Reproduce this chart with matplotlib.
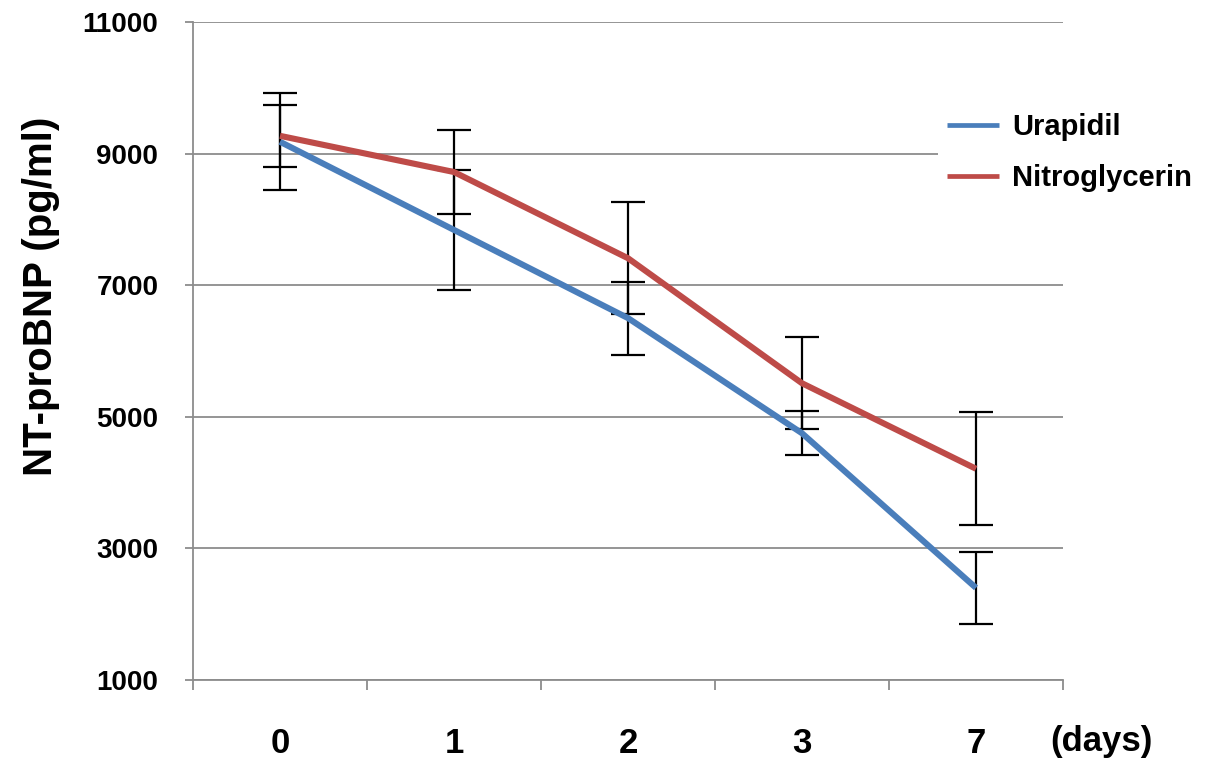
import numpy as np
import matplotlib.pyplot as plt

# values
days = ["0", "1", "2", "3", "7"]
urapidil = [9180, 7840, 6500, 4750, 2400]
urapidil_err = [740, 910, 555, 335, 547]
nitro = [9270, 8720, 7410, 5510, 4210]
nitro_err = [470, 640, 850, 700, 860]
yticks = [1000, 3000, 5000, 7000, 9000, 11000]

plt.rcParams['font.family'] = ['Liberation Sans', 'DejaVu Sans']
plt.rcParams['font.weight'] = 'bold'

blue = '#4a7ebb'
red = '#be4b48'
grey = '#8c8c8c'

fig = plt.figure(figsize=(12.05, 7.71), dpi=100)
ax = fig.add_axes([193 / 1205, 1 - 680 / 771, 870 / 1205, 658 / 771])

x = np.arange(len(days))

# error bars sit under the lines
ax.errorbar(x, urapidil, yerr=urapidil_err, fmt='none', ecolor='black',
            elinewidth=1.6, capsize=12, capthick=1.6, zorder=3)
ax.errorbar(x, nitro, yerr=nitro_err, fmt='none', ecolor='black',
            elinewidth=1.6, capsize=12, capthick=1.6, zorder=3)

ax.plot(x, urapidil, color=blue, lw=4.4, label='Urapidil', zorder=4,
        solid_capstyle='butt')
ax.plot(x, nitro, color=red, lw=4.4, label='Nitroglycerin', zorder=5,
        solid_capstyle='butt')

ax.set_xlim(-0.5, len(days) - 0.5)
ax.set_ylim(1000, 11000)

ax.set_yticks(yticks)
ax.set_yticklabels([str(v) for v in yticks], fontsize=20, fontweight='bold')
ax.yaxis.grid(True, color=grey, lw=1.3)
ax.set_axisbelow(True)

ax.set_xticks(x)
ax.set_xticklabels(days, fontsize=25, fontweight='bold')
ax.set_xticks(np.arange(-0.5, len(days)), minor=True)
ax.tick_params(axis='x', which='major', length=0, pad=34)
ax.tick_params(axis='x', which='minor', length=7, width=1.3, color=grey, direction='out')
ax.tick_params(axis='y', length=6, width=1.3, color=grey, pad=19)

for s in ['top', 'right']:
    ax.spines[s].set_visible(False)
for s in ['left', 'bottom']:
    ax.spines[s].set_color(grey)
    ax.spines[s].set_linewidth(1.3)

fig.text(1101 / 1205, 1 - 741 / 771, '(days)', fontsize=25, fontweight='bold',
         ha='center', va='center')
fig.text(41 / 1205, 1 - 296 / 771, 'NT-proBNP (pg/ml)', fontsize=29,
         fontweight='bold', rotation=90, ha='center', va='center')

leg = ax.legend(loc='upper left', bbox_to_anchor=(938 / 1205, 1 - 104 / 771),
                bbox_transform=fig.transFigure, fontsize=21, frameon=True,
                facecolor='white', edgecolor='none', framealpha=1,
                handlelength=1.8, handletextpad=0.45, labelspacing=0.8,
                borderpad=0.3, borderaxespad=0)
for line in leg.get_lines():
    line.set_linewidth(3.4)

fig.savefig('out.png', dpi=100)
